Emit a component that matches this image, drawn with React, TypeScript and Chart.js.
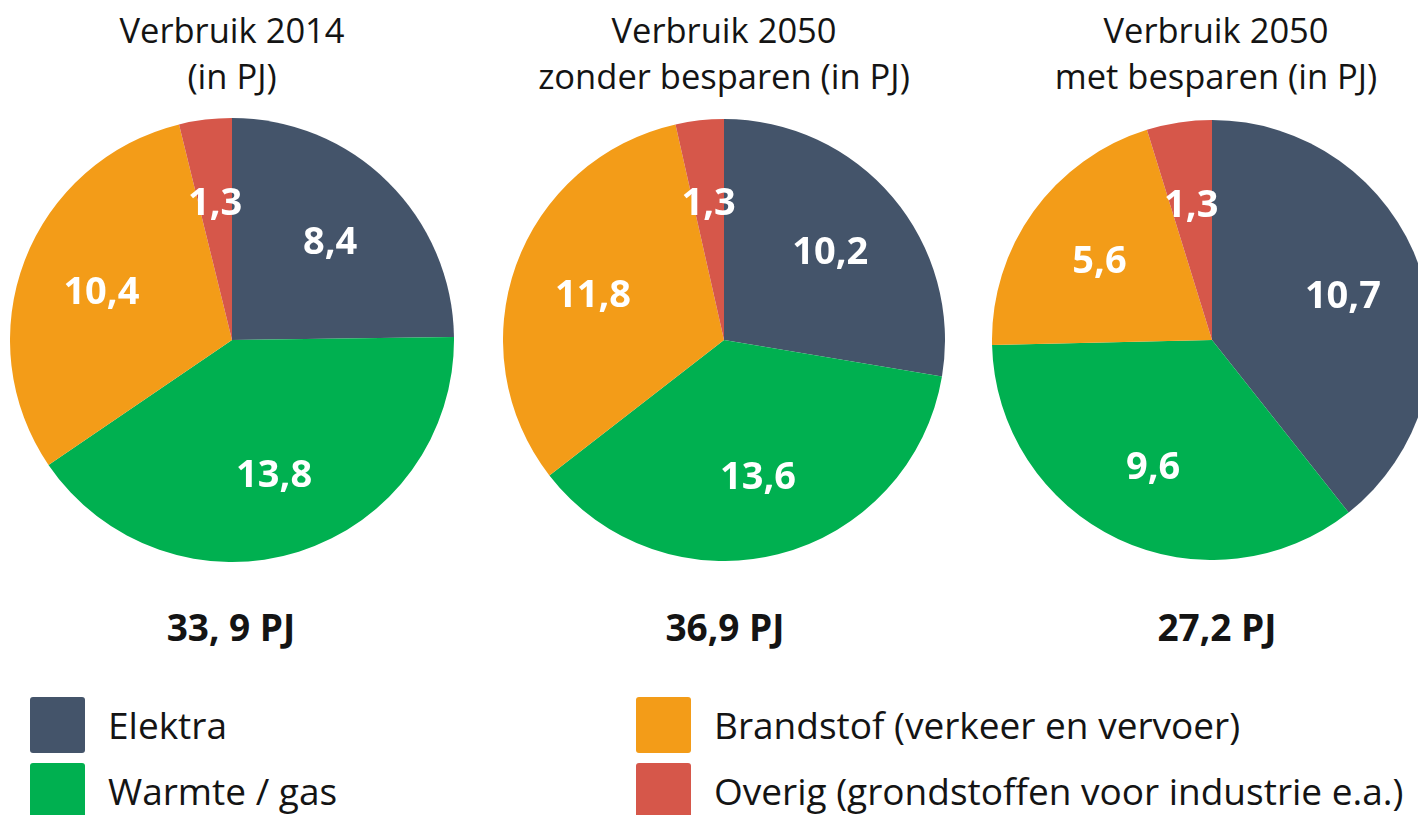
import React, { useEffect, useRef } from 'react';
import { Chart, registerables } from 'chart.js';

Chart.register(...registerables);

// ---- data ----
const categories = [
  'Elektra',
  'Warmte / gas',
  'Brandstof (verkeer en vervoer)',
  'Overig (grondstoffen voor industrie e.a.)',
];
const values2014 = [8.4, 13.8, 10.4, 1.3];
const values2050Zonder = [10.2, 13.6, 11.8, 1.3];
const values2050Met = [10.7, 9.6, 5.6, 1.3];
const titleLine1 = ['Verbruik 2014', 'Verbruik 2050', 'Verbruik 2050'];
const titleLine2 = ['(in PJ)', 'zonder besparen (in PJ)', 'met besparen (in PJ)'];
const totals = ['33, 9 PJ', '36,9 PJ', '27,2 PJ'];

// ---- styles ----
const colors = ['#44546A', '#00B050', '#F39C18', '#D6574A'];
const FONT = '"Open Sans", "Noto Sans", sans-serif';

const fmt = (v: number) => String(v).replace('.', ',');

const labelPlugin = {
  id: 'sliceLabels',
  afterDatasetsDraw(chart: any) {
    const ctx = chart.ctx;
    const meta = chart.getDatasetMeta(0);
    const data = chart.data.datasets[0].data as number[];
    const fs = 38;
    ctx.save();
    ctx.font = `bold ${fs}px ${FONT}`;
    ctx.fillStyle = '#ffffff';
    ctx.textAlign = 'center';
    ctx.textBaseline = 'alphabetic';
    meta.data.forEach((arc: any, i: number) => {
      const p = arc.getProps(['x', 'y', 'startAngle', 'endAngle', 'outerRadius'], true);
      const mid = (p.startAngle + p.endAngle) / 2;
      const d = p.outerRadius * 0.63;
      ctx.fillText(fmt(data[i]), p.x + Math.cos(mid) * d, p.y + Math.sin(mid) * d + fs * 0.36);
    });
    ctx.restore();
  },
};

function Pie({ values, cx, cy, r }: { values: number[]; cx: number; cy: number; r: number }) {
  const ref = useRef<HTMLCanvasElement>(null);
  useEffect(() => {
    const chart = new Chart(ref.current as HTMLCanvasElement, {
      type: 'pie',
      data: {
        labels: categories,
        datasets: [{ data: values, backgroundColor: colors, borderWidth: 0 }],
      },
      options: {
        responsive: false,
        maintainAspectRatio: false,
        animation: false,
        events: [],
        layout: { padding: 0 },
        plugins: { legend: { display: false }, tooltip: { enabled: false } },
      },
      plugins: [labelPlugin],
    } as any);
    return () => chart.destroy();
  }, []);
  return (
    <canvas
      ref={ref}
      width={2 * r}
      height={2 * r}
      style={{ position: 'absolute', left: cx - r, top: cy - r, width: 2 * r, height: 2 * r }}
    />
  );
}

function Text({ x, baseline, size, bold, children, align = 'center' }: any) {
  const top = baseline - 0.888 * size;
  return (
    <div
      style={{
        position: 'absolute',
        left: x,
        top,
        transform: align === 'center' ? 'translateX(-50%)' : undefined,
        whiteSpace: 'nowrap',
        fontFamily: FONT,
        fontSize: size,
        lineHeight: `${size}px`,
        fontWeight: bold ? 700 : 400,
        color: '#141414',
      }}
    >
      {children}
    </div>
  );
}

const pies = [
  { values: values2014, cx: 232, cy: 340, r: 222, tx: 232, totx: 231 },
  { values: values2050Zonder, cx: 724, cy: 340, r: 221, tx: 724, totx: 725 },
  { values: values2050Met, cx: 1212, cy: 340, r: 220, tx: 1216, totx: 1217 },
];

const legendPos = [
  { x: 30, y: 697 },
  { x: 30, y: 763 },
  { x: 636, y: 697 },
  { x: 636, y: 763 },
];

export default function App() {
  return (
    <div
      style={{
        position: 'fixed',
        left: 0,
        top: 0,
        width: 1418,
        height: 815,
        overflow: 'hidden',
        background: '#ffffff',
      }}
    >
      {pies.map((p, i) => (
        <React.Fragment key={i}>
          <Text x={p.tx} baseline={44} size={34.5}>{titleLine1[i]}</Text>
          <Text x={p.tx} baseline={90} size={34.5}>{titleLine2[i]}</Text>
          <Pie values={p.values} cx={p.cx} cy={p.cy} r={p.r} />
          <Text x={p.totx} baseline={641} size={37} bold>{totals[i]}</Text>
        </React.Fragment>
      ))}
      {categories.map((c, i) => (
        <React.Fragment key={c}>
          <div
            style={{
              position: 'absolute',
              left: legendPos[i].x,
              top: legendPos[i].y,
              width: 55,
              height: 56,
              borderRadius: 3,
              background: colors[i],
            }}
          />
          <Text x={legendPos[i].x + 78} baseline={legendPos[i].y + 42} size={37} align="left">
            {c}
          </Text>
        </React.Fragment>
      ))}
    </div>
  );
}
